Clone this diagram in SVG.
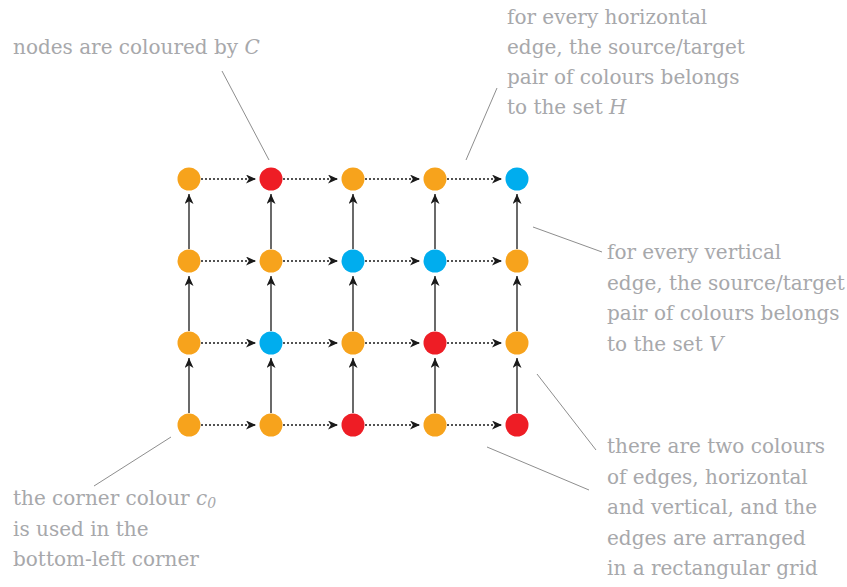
<svg xmlns="http://www.w3.org/2000/svg" width="847" height="587" viewBox="0 0 847 587">
<style>
.o{fill:#F7A31C}.r{fill:#EE1D25}.b{fill:#00ADEE}
.h{stroke:#1a1a1a;stroke-width:1.3;stroke-dasharray:2 2;fill:none}
.v{stroke:#1a1a1a;stroke-width:1.3;fill:none}
.l{stroke:#8e8e8e;stroke-width:1;fill:none}
.t{font-size:20px;fill:#a7a8ab}
.i{font-style:italic}
</style>
<defs>
<marker id="ah" viewBox="0 0 10 9" refX="10" refY="4.5" markerWidth="10" markerHeight="9" markerUnits="userSpaceOnUse" orient="auto">
<path d="M0,0 L10,4.5 L0,9 L2.8,4.5 z" fill="#1a1a1a"/>
</marker>
</defs>
<rect width="847" height="587" fill="#fff"/>
<g id="connectors">
<g class="h">
<line x1="201" y1="179" x2="256" y2="179" marker-end="url(#ah)"/>
<line x1="283" y1="179" x2="338" y2="179" marker-end="url(#ah)"/>
<line x1="365" y1="179" x2="420" y2="179" marker-end="url(#ah)"/>
<line x1="447" y1="179" x2="502" y2="179" marker-end="url(#ah)"/>
<line x1="201" y1="261" x2="256" y2="261" marker-end="url(#ah)"/>
<line x1="283" y1="261" x2="338" y2="261" marker-end="url(#ah)"/>
<line x1="365" y1="261" x2="420" y2="261" marker-end="url(#ah)"/>
<line x1="447" y1="261" x2="502" y2="261" marker-end="url(#ah)"/>
<line x1="201" y1="343" x2="256" y2="343" marker-end="url(#ah)"/>
<line x1="283" y1="343" x2="338" y2="343" marker-end="url(#ah)"/>
<line x1="365" y1="343" x2="420" y2="343" marker-end="url(#ah)"/>
<line x1="447" y1="343" x2="502" y2="343" marker-end="url(#ah)"/>
<line x1="201" y1="425" x2="256" y2="425" marker-end="url(#ah)"/>
<line x1="283" y1="425" x2="338" y2="425" marker-end="url(#ah)"/>
<line x1="365" y1="425" x2="420" y2="425" marker-end="url(#ah)"/>
<line x1="447" y1="425" x2="502" y2="425" marker-end="url(#ah)"/>
</g>
<g class="v">
<line x1="189" y1="249" x2="189" y2="194" marker-end="url(#ah)"/>
<line x1="271" y1="249" x2="271" y2="194" marker-end="url(#ah)"/>
<line x1="353" y1="249" x2="353" y2="194" marker-end="url(#ah)"/>
<line x1="435" y1="249" x2="435" y2="194" marker-end="url(#ah)"/>
<line x1="517" y1="249" x2="517" y2="194" marker-end="url(#ah)"/>
<line x1="189" y1="331" x2="189" y2="276" marker-end="url(#ah)"/>
<line x1="271" y1="331" x2="271" y2="276" marker-end="url(#ah)"/>
<line x1="353" y1="331" x2="353" y2="276" marker-end="url(#ah)"/>
<line x1="435" y1="331" x2="435" y2="276" marker-end="url(#ah)"/>
<line x1="517" y1="331" x2="517" y2="276" marker-end="url(#ah)"/>
<line x1="189" y1="413" x2="189" y2="358" marker-end="url(#ah)"/>
<line x1="271" y1="413" x2="271" y2="358" marker-end="url(#ah)"/>
<line x1="353" y1="413" x2="353" y2="358" marker-end="url(#ah)"/>
<line x1="435" y1="413" x2="435" y2="358" marker-end="url(#ah)"/>
<line x1="517" y1="413" x2="517" y2="358" marker-end="url(#ah)"/>
</g>
</g>
<g id="nodes">
<circle id="n00" class="o" cx="189" cy="179" r="11.5"/>
<circle id="n01" class="r" cx="271" cy="179" r="11.5"/>
<circle id="n02" class="o" cx="353" cy="179" r="11.5"/>
<circle id="n03" class="o" cx="435" cy="179" r="11.5"/>
<circle id="n04" class="b" cx="517" cy="179" r="11.5"/>
<circle id="n10" class="o" cx="189" cy="261" r="11.5"/>
<circle id="n11" class="o" cx="271" cy="261" r="11.5"/>
<circle id="n12" class="b" cx="353" cy="261" r="11.5"/>
<circle id="n13" class="b" cx="435" cy="261" r="11.5"/>
<circle id="n14" class="o" cx="517" cy="261" r="11.5"/>
<circle id="n20" class="o" cx="189" cy="343" r="11.5"/>
<circle id="n21" class="b" cx="271" cy="343" r="11.5"/>
<circle id="n22" class="o" cx="353" cy="343" r="11.5"/>
<circle id="n23" class="r" cx="435" cy="343" r="11.5"/>
<circle id="n24" class="o" cx="517" cy="343" r="11.5"/>
<circle id="n30" class="o" cx="189" cy="425" r="11.5"/>
<circle id="n31" class="o" cx="271" cy="425" r="11.5"/>
<circle id="n32" class="r" cx="353" cy="425" r="11.5"/>
<circle id="n33" class="o" cx="435" cy="425" r="11.5"/>
<circle id="n34" class="r" cx="517" cy="425" r="11.5"/>
</g>
<g id="leaders">
<line class="l" x1="222" y1="71" x2="269" y2="160"/>
<line class="l" x1="497" y1="88" x2="466" y2="160"/>
<line class="l" x1="533" y1="227" x2="602" y2="252"/>
<line class="l" x1="537" y1="374" x2="596" y2="450"/>
<line class="l" x1="487" y1="447" x2="589" y2="490"/>
<line class="l" x1="171" y1="437" x2="94" y2="486"/>
</g>
<g id="annotations" class="t" font-family="DejaVu Serif, serif">
<text x="13" y="54">nodes are coloured by <tspan class="i">C</tspan></text>
<text x="507" y="24">for every horizontal</text>
<text x="507" y="54">edge, the source/target</text>
<text x="507" y="84">pair of colours belongs</text>
<text x="507" y="114">to the set <tspan class="i">H</tspan></text>
<text x="607" y="259">for every vertical</text>
<text x="607" y="289.5">edge, the source/target</text>
<text x="607" y="320">pair of colours belongs</text>
<text x="607" y="350.5">to the set <tspan class="i">V</tspan></text>
<text x="607" y="453">there are two colours</text>
<text x="607" y="483.5">of edges, horizontal</text>
<text x="607" y="514">and vertical, and the</text>
<text x="607" y="544.5">edges are arranged</text>
<text x="607" y="575">in a rectangular grid</text>
<text x="13" y="505">the corner colour <tspan class="i">c</tspan><tspan class="i" font-size="14" dy="3">0</tspan></text>
<text x="13" y="535.5">is used in the</text>
<text x="13" y="566">bottom-left corner</text>
</g>
</svg>
